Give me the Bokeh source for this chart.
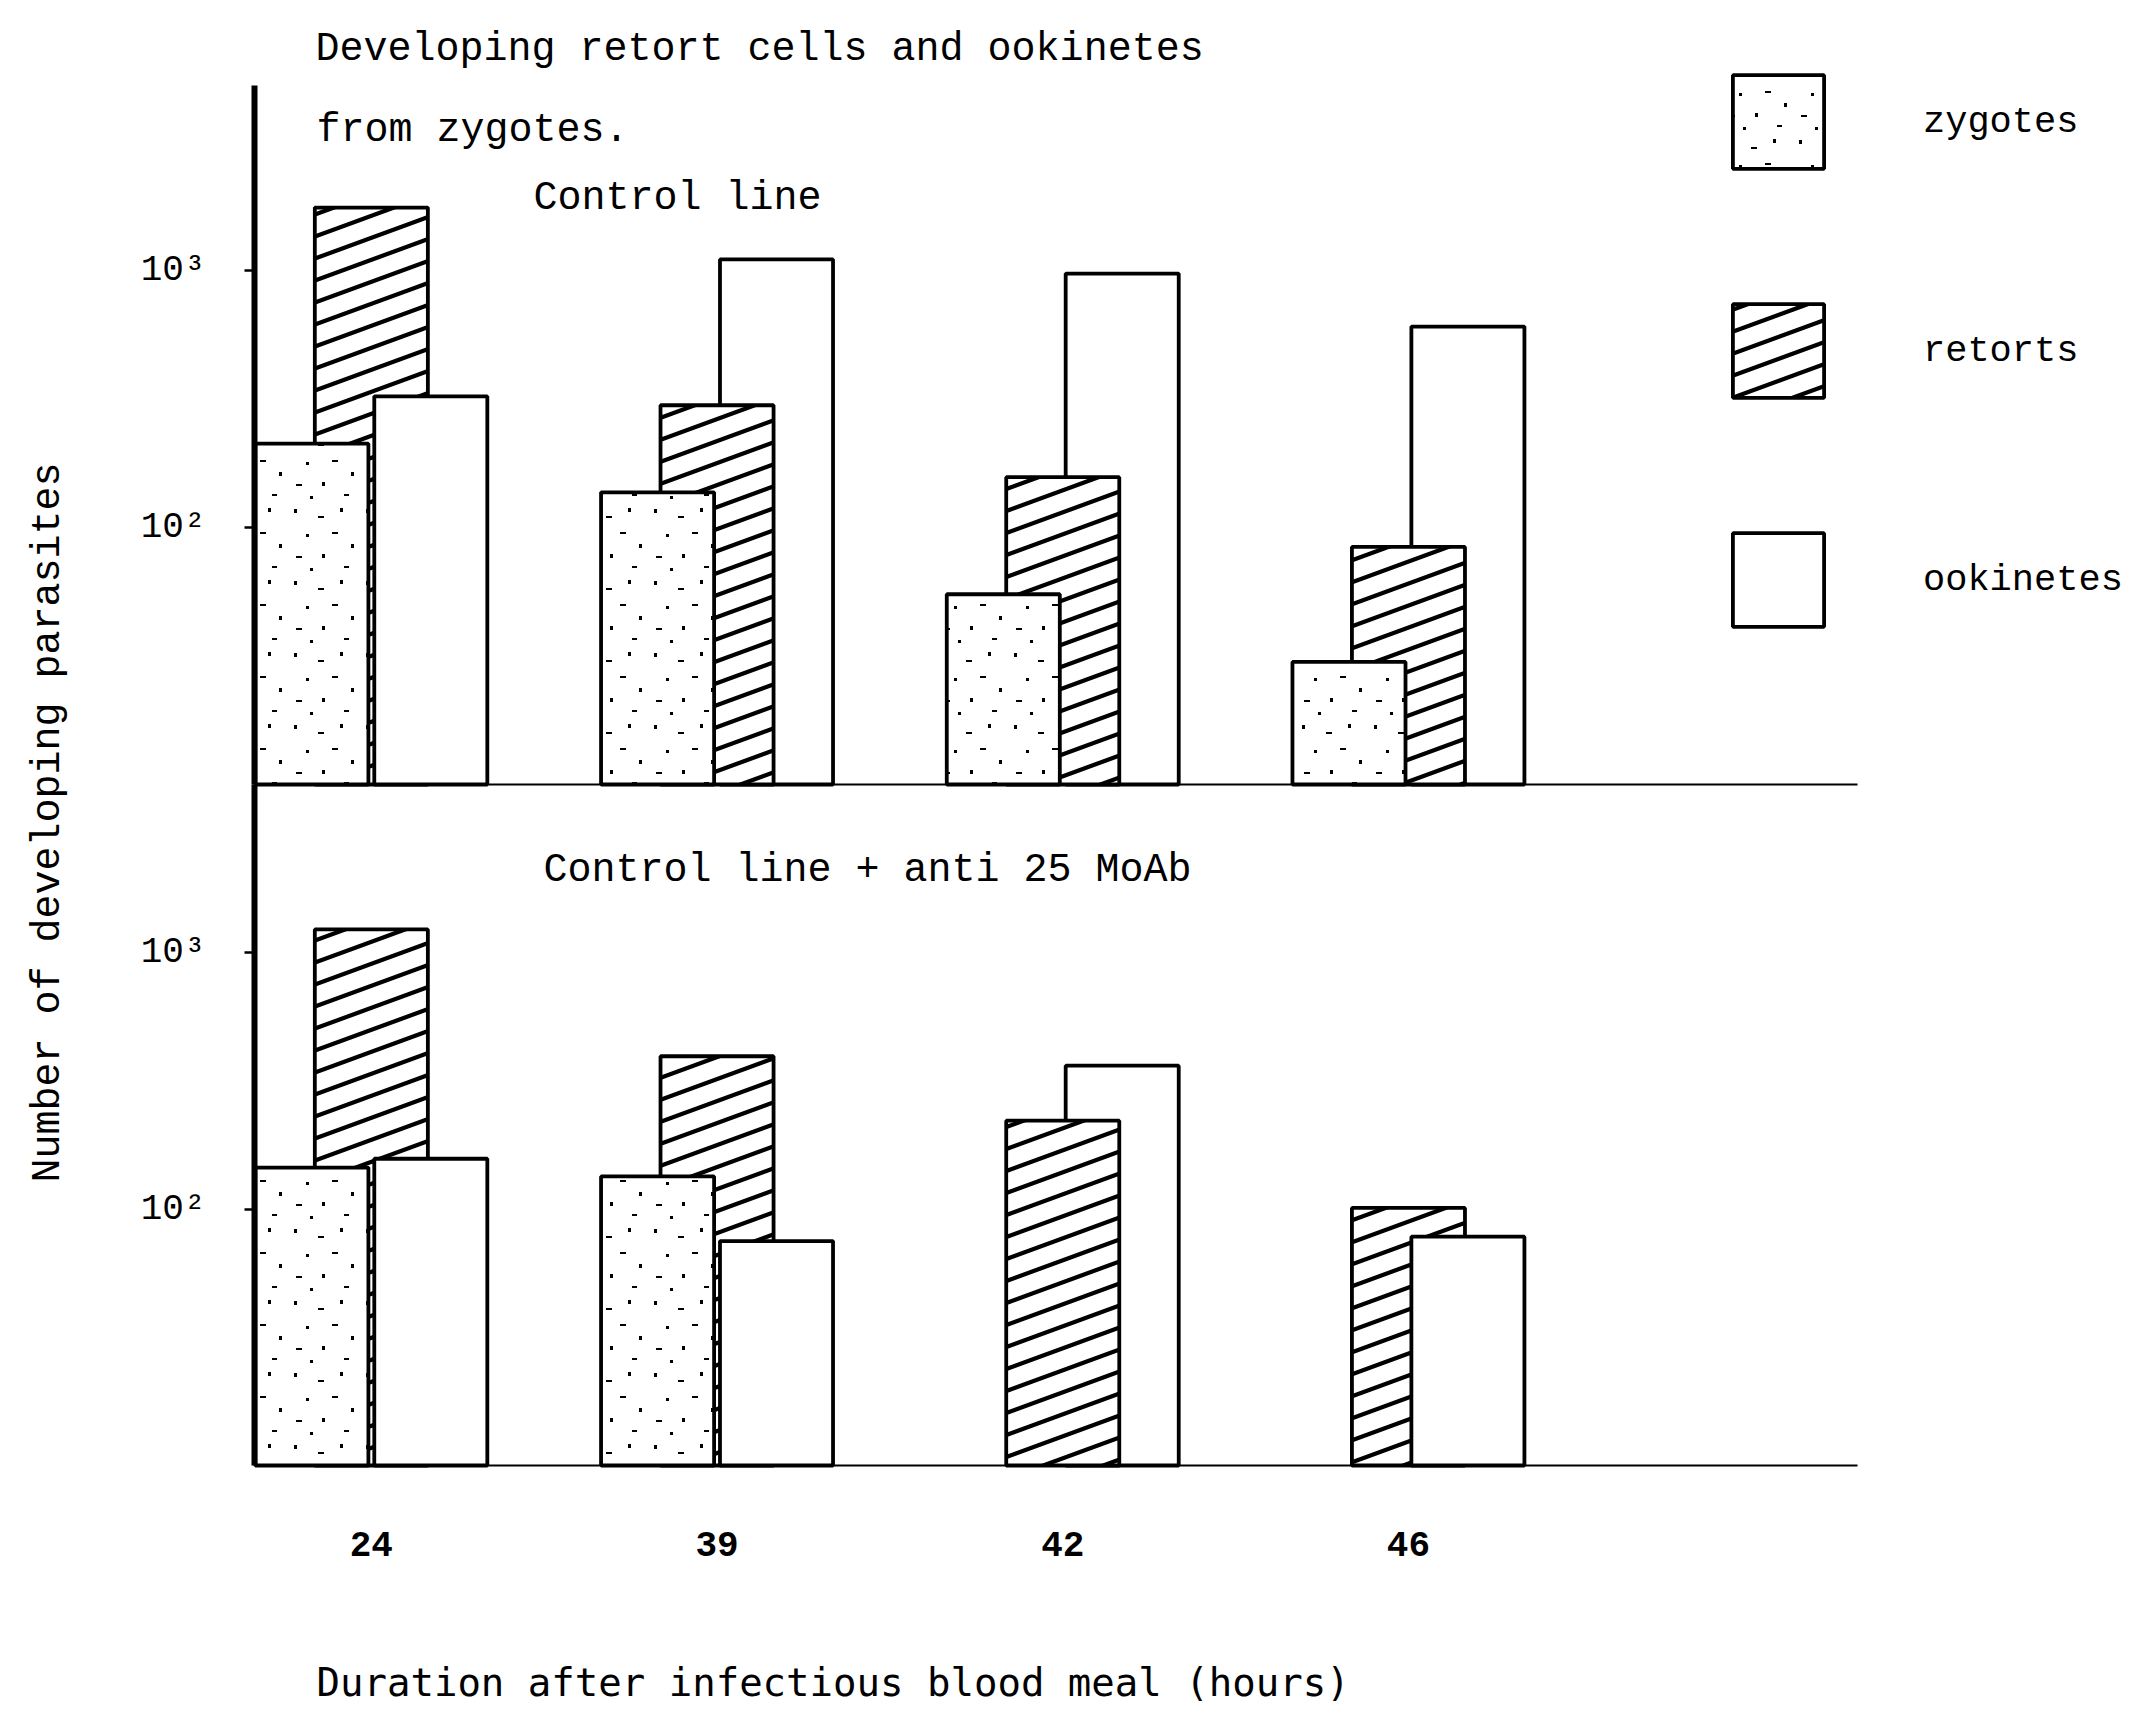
import base64
import math

from bokeh.core.properties import field
from bokeh.embed import file_html
from bokeh.models import (ColumnDataSource, FixedTicker, ImageURLTexture, Label,
                          Legend, LegendItem, LinearAxis, LogAxis, LogScale, Range1d)
from bokeh.plotting import figure
from bokeh.resources import INLINE

# ---------------- data ----------------
hours = ["24", "39", "42", "46"]
series_names = ["zygotes", "retorts", "ookinetes"]

control_zygotes = [212, 137, 55, 30]
control_retorts = [1758, 299, 157, 84]
control_ookinetes = [324, 1104, 973, 605]

mab_zygotes = [145, 134, None, None]
mab_retorts = [1230, 394, 221, 101]
mab_ookinetes = [157, 75, 362, 78]

y_ticks = [100, 1000]
y_tick_labels = ["10²", "10³"]

title_line1 = "Developing retort cells and ookinetes"
title_line2 = "from zygotes."
top_panel_title = "Control line"
bottom_panel_title = "Control line + anti 25 MoAb"
y_label = "Number of developing parasites"
x_label = "Duration after infectious blood meal (hours)"

BASE = 10  # bars rise from the 10^1 baseline of each panel

# ---------------- textures ----------------
STIPPLE_SVG = """<svg xmlns='http://www.w3.org/2000/svg' width='72' height='72'>
<g fill='black'>
<rect x='6' y='5' width='3' height='4'/>
<rect x='30' y='12' width='6' height='2'/>
<rect x='52' y='4' width='3' height='4'/>
<rect x='18' y='30' width='3' height='3'/>
<rect x='44' y='28' width='6' height='2'/>
<rect x='63' y='40' width='3' height='4'/>
<rect x='8' y='52' width='6' height='2'/>
<rect x='34' y='50' width='3' height='4'/>
<rect x='56' y='62' width='5' height='2'/>
<rect x='22' y='64' width='3' height='3'/>
</g></svg>"""

HATCH_SVG = """<svg xmlns='http://www.w3.org/2000/svg' width='60' height='22'>
<g stroke='black' stroke-width='4.2' stroke-linecap='round'>
<line x1='-6' y1='24.2' x2='66' y2='-2.2'/>
<line x1='-6' y1='2.2' x2='66' y2='-24.2'/>
<line x1='-6' y1='46.2' x2='66' y2='19.8'/>
</g></svg>"""


def data_url(svg):
    return "data:image/svg+xml;base64," + base64.b64encode(svg.encode()).decode()


hatch_extra = {
    "stipple": ImageURLTexture(url=data_url(STIPPLE_SVG), repetition="repeat"),
    "retort": ImageURLTexture(url=data_url(HATCH_SVG), repetition="repeat"),
}
patterns = {"zygotes": "stipple", "retorts": "retort", "ookinetes": " "}
offsets = {"zygotes": -0.172, "retorts": 0.0, "ookinetes": 0.172}
BAR_W = 0.327


def panel_source(values):
    rows = []
    for name, vals in zip(series_names, values):
        for i, v in enumerate(vals):
            if v is None:
                continue
            rows.append((v, i + offsets[name], name))
    # taller bars first so the shorter ones sit in front of them
    rows.sort(key=lambda r: -r[0])
    return ColumnDataSource(dict(
        x=[r[1] for r in rows],
        top=[r[0] for r in rows],
        series=[r[2] for r in rows],
        hatch=[patterns[r[2]] for r in rows],
    ))


top_src = panel_source([control_zygotes, control_retorts, control_ookinetes])
bot_src = panel_source([mab_zygotes, mab_retorts, mab_ookinetes])

# ---------------- figure geometry (the frame fills the whole canvas) ----------------
W, H = 2136, 1714
PX_PER_UNIT = 345.7
AXIS_X = -0.338                # data x of the vertical axis line
BASE_END_X = 4.299             # data x where the baselines stop
AXIS_PX = 254                  # canvas x of the vertical axis line
x_start = AXIS_X - AXIS_PX / PX_PER_UNIT
x_end = x_start + W / PX_PER_UNIT

TOP_BASE_PX, BOT_BASE_PX, AXIS_TOP_PX = 784, 1465, 85
TOP_DECADE, BOT_DECADE = 257.0, 256.5
top_lo = 1 - (H - TOP_BASE_PX) / TOP_DECADE
top_hi = 1 + TOP_BASE_PX / TOP_DECADE
top_axis_hi = 1 + (TOP_BASE_PX - AXIS_TOP_PX) / TOP_DECADE
bot_lo = 1 - (H - BOT_BASE_PX) / BOT_DECADE
bot_hi = 1 + BOT_BASE_PX / BOT_DECADE
bot_axis_hi = 1 + (BOT_BASE_PX - TOP_BASE_PX) / BOT_DECADE

p = figure(width=W, height=H, output_backend="svg", toolbar_location=None,
           x_range=Range1d(x_start, x_end),
           y_range=Range1d(10 ** top_lo, 10 ** top_hi), y_axis_type="log",
           x_axis_location=None, y_axis_location=None,
           min_border_left=0, min_border_right=0, min_border_top=0,
           min_border_bottom=0)
p.outline_line_color = None
p.grid.visible = False
p.title.visible = False

p.extra_y_ranges = {"bottom": Range1d(10 ** bot_lo, 10 ** bot_hi)}
p.extra_y_scales = {"bottom": LogScale()}

bar_kw = dict(x="x", top="top", bottom=BASE, width=BAR_W, fill_color="white",
              line_color="black", line_width=3.8, hatch_pattern=field("hatch"),
              hatch_color="black", hatch_extra=hatch_extra)
r_top = p.vbar(source=top_src, **bar_kw)
r_bot = p.vbar(source=bot_src, y_range_name="bottom", **bar_kw)

# ---------------- y axes (one per panel, on the same vertical line) ----------------
TICK_FONT = "Liberation Mono"
ax_top = LogAxis(fixed_location=AXIS_X, bounds=(BASE, 10 ** top_axis_hi))
ax_bot = LogAxis(y_range_name="bottom", fixed_location=AXIS_X,
                 bounds=(BASE, 10 ** bot_axis_hi))
for ax in (ax_top, ax_bot):
    ax.ticker = FixedTicker(ticks=y_ticks)
    ax.major_label_overrides = dict(zip(y_ticks, y_tick_labels))
    ax.major_tick_out = 10
    ax.major_tick_in = 0
    ax.major_tick_line_width = 2.5
    ax.minor_tick_line_color = None
    ax.major_label_standoff = 39
    ax.major_label_text_font = TICK_FONT
    ax.major_label_text_font_size = "36px"
    ax.major_label_text_color = "black"
    ax.axis_line_width = 6
    ax.axis_line_color = "black"
    p.add_layout(ax, "left")

# upper panel baseline (an x axis without ticks sitting on y = 10)
top_base = LinearAxis(fixed_location=BASE, bounds=(AXIS_X, BASE_END_X),
                      ticker=FixedTicker(ticks=[]))
top_base.axis_line_width = 2
top_base.major_tick_line_color = None
top_base.minor_tick_line_color = None
top_base.major_label_text_font_size = "0px"
p.add_layout(top_base, "below")

# lower x axis with the hour labels, on the lower panel's baseline
xa = LinearAxis(y_range_name="bottom", fixed_location=BASE, bounds=(AXIS_X, BASE_END_X),
                ticker=FixedTicker(ticks=list(range(len(hours)))))
xa.major_label_overrides = {i: h for i, h in enumerate(hours)}
xa.major_tick_line_color = None
xa.major_tick_out = 0
xa.major_tick_in = 0
xa.minor_tick_line_color = None
xa.axis_line_width = 2
xa.major_label_standoff = 66
xa.major_label_text_font = "Liberation Mono"
xa.major_label_text_font_style = "bold"
xa.major_label_text_font_size = "36px"
xa.major_label_text_color = "black"
p.add_layout(xa, "below")

# ---------------- texts ----------------
FONT = "Liberation Mono"


def canvas_label(text, cx, cy, angle=0.0, align="left", font=FONT, size="40px"):
    # cx, cy: canvas pixels from the top-left (the frame fills the canvas)
    return Label(x=cx, y=H - cy, x_units="screen", y_units="screen",
                 text=text, text_font=font, text_font_size=size, text_color="black",
                 text_baseline="middle", text_align=align, angle=angle)


p.add_layout(canvas_label(title_line1, 315, 49))
p.add_layout(canvas_label(title_line2, 316, 130))
p.add_layout(canvas_label(top_panel_title, 533, 198))
p.add_layout(canvas_label(bottom_panel_title, 543, 870))
p.add_layout(canvas_label(y_label, 48, 822, angle=math.pi / 2, align="center"))
p.add_layout(canvas_label(x_label, 316, 1682, font="DejaVu Sans Mono", size="39px"))

# ---------------- legend ----------------
def first_index(src, name):
    return src.data["series"].index(name)


items = [LegendItem(label=name, renderers=[r_top], index=first_index(top_src, name))
         for name in series_names]
GLYPH_W, GLYPH_H, SPACING = 114, 117, 112
leg_h = 3 * GLYPH_H + 2 * SPACING
legend = Legend(items=items, location=(1721, H - (63 + leg_h)),
                glyph_width=GLYPH_W, glyph_height=GLYPH_H, spacing=SPACING,
                label_standoff=88, padding=0, margin=0,
                label_text_font=FONT, label_text_font_size="37px",
                label_text_color="black",
                border_line_color=None, background_fill_alpha=0)
p.add_layout(legend)

open("out.html", "w").write(file_html(p, INLINE))
